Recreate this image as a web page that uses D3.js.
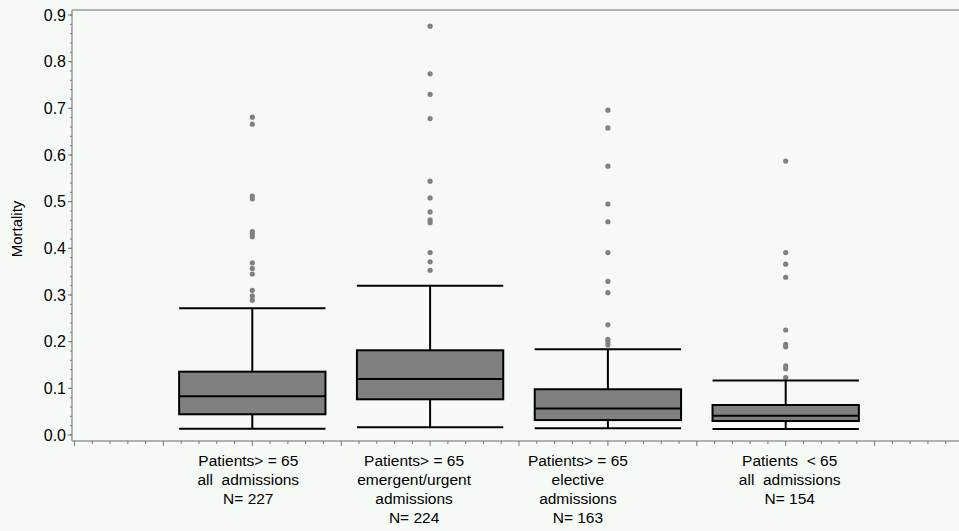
<!DOCTYPE html>
<html>
<head>
<meta charset="utf-8">
<script src="https://cdn.jsdelivr.net/npm/d3@7"></script>
<style>
  body { margin: 0; background: #f6faf6; }
  text { font-family: "Liberation Sans", Arial, sans-serif; fill: #000; }
</style>
</head>
<body>
<div id="d3-container"></div>
<script>
const width = 959,
    height = 531,
    margin = { top: 10, bottom: 90, left: 72, right: 0 };

// group labels (one line per entry)
const groupLabels = [
    ["Patients> = 65", "all  admissions", "N= 227"],
    ["Patients> = 65", "emergent/urgent", "admissions", "N= 224"],
    ["Patients> = 65", "elective", "admissions", "N= 163"],
    ["Patients  < 65", "all  admissions", "N= 154"],
];

// five-number summaries
const whiskerLow = [0.0135, 0.0165, 0.0143, 0.0129];
const q1 = [0.0444, 0.0765, 0.032, 0.030];
const median = [0.0829, 0.120, 0.057, 0.0414];
const q3 = [0.1357, 0.1815, 0.098, 0.0643];
const whiskerHigh = [0.2715, 0.320, 0.184, 0.117];

// outliers above the upper whisker
const outliers = [
    [0.681, 0.666, 0.512, 0.506, 0.436, 0.431, 0.425, 0.369, 0.357, 0.345, 0.310, 0.298, 0.289],
    [0.876, 0.774, 0.730, 0.678, 0.544, 0.508, 0.478, 0.461, 0.455, 0.391, 0.371, 0.353],
    [0.696, 0.658, 0.576, 0.495, 0.457, 0.391, 0.329, 0.305, 0.236, 0.205, 0.199, 0.193],
    [0.587, 0.391, 0.366, 0.338, 0.225, 0.194, 0.189, 0.148, 0.142, 0.123],
];

const yTicks = [0, 0.1, 0.2, 0.3, 0.4, 0.5, 0.6, 0.7, 0.8, 0.9];

// label nudges (SAS places the tick text a bit off the box centre)
const labelShift = [-4, -16, -30, 4];

const svg = d3.select("#d3-container")
    .append("svg")
    .attr("width", width)
    .attr("height", height);

const y = d3.scaleLinear()
    .domain([0, 0.9])
    .range([435, 15]);

const x = d3.scaleLinear()
    .domain([0, 5])
    .range([74.5, 963.5]);

const boxW = x(0.823) - x(0);
const axisY = 441;

const groups = groupLabels.map((g, i) => ({
    pos: i + 1,
    lo: whiskerLow[i], q1: q1[i], med: median[i], q3: q3[i], hi: whiskerHigh[i],
    out: outliers[i],
}));

// frame lines
svg.append("line")
    .attr("x1", margin.left).attr("x2", width)
    .attr("y1", margin.top).attr("y2", margin.top)
    .attr("stroke", "#999").attr("stroke-width", 1.5);

// y axis
const yAxis = svg.append("g")
    .attr("transform", `translate(${margin.left},0)`);
yAxis.append("line")
    .attr("x1", 0).attr("x2", 0)
    .attr("y1", margin.top).attr("y2", axisY)
    .attr("stroke", "#999").attr("stroke-width", 1.5);
yAxis.selectAll(".minor")
    .data(d3.range(0, 0.901, 0.02))
    .join("line")
    .attr("class", "minor")
    .attr("x1", -2).attr("x2", 0)
    .attr("y1", d => y(d)).attr("y2", d => y(d))
    .attr("stroke", "#777");
yAxis.selectAll(".major")
    .data(yTicks)
    .join("line")
    .attr("class", "major")
    .attr("x1", -4).attr("x2", 0)
    .attr("y1", d => y(d)).attr("y2", d => y(d))
    .attr("stroke", "#777");
yAxis.selectAll(".ylab")
    .data(yTicks)
    .join("text")
    .attr("class", "ylab")
    .attr("x", -6)
    .attr("y", d => y(d))
    .attr("dy", "0.36em")
    .attr("text-anchor", "end")
    .style("font-size", "16px")
    .text(d3.format(".1f"));

svg.append("text")
    .attr("transform", `translate(22,${y(0.45) + 4}) rotate(-90)`)
    .attr("text-anchor", "middle")
    .style("font-size", "15px")
    .text("Mortality");

// x axis
const xAxis = svg.append("g");
xAxis.append("line")
    .attr("x1", margin.left).attr("x2", width)
    .attr("y1", axisY).attr("y2", axisY)
    .attr("stroke", "#999").attr("stroke-width", 1.5);
xAxis.selectAll(".xtick")
    .data(d3.range(0, 50).map(d => d / 10))
    .join("line")
    .attr("class", "xtick")
    .attr("x1", d => x(d)).attr("x2", d => x(d))
    .attr("y1", axisY)
    .attr("y2", (d, i) => axisY + (i % 5 === 0 ? 5 : 3))
    .attr("stroke", "#777");

// outliers
svg.selectAll(".outs")
    .data(groups)
    .join("g")
    .attr("class", "outs")
    .selectAll("circle")
    .data(d => d.out.map(v => ({ pos: d.pos, v })))
    .join("circle")
    .attr("cx", d => x(d.pos))
    .attr("cy", d => y(d.v))
    .attr("r", 2.6)
    .attr("fill", "#808080");

// boxes
const box = svg.selectAll(".box")
    .data(groups)
    .join("g")
    .attr("class", "box");

box.append("line")
    .attr("x1", d => x(d.pos)).attr("x2", d => x(d.pos))
    .attr("y1", d => y(d.hi)).attr("y2", d => y(d.lo))
    .attr("stroke", "#000").attr("stroke-width", 2);

box.append("rect")
    .attr("x", d => x(d.pos) - boxW / 2)
    .attr("width", boxW)
    .attr("y", d => y(d.q3))
    .attr("height", d => y(d.q1) - y(d.q3))
    .attr("fill", "#808080")
    .attr("stroke", "#000")
    .attr("stroke-width", 2);

box.selectAll(".hl")
    .data(d => [d.lo, d.med, d.hi].map(v => ({ pos: d.pos, v })))
    .join("line")
    .attr("class", "hl")
    .attr("x1", d => x(d.pos) - boxW / 2)
    .attr("x2", d => x(d.pos) + boxW / 2)
    .attr("y1", d => y(d.v)).attr("y2", d => y(d.v))
    .attr("stroke", "#000").attr("stroke-width", 2);

// group labels
svg.selectAll(".glab")
    .data(groupLabels)
    .join("text")
    .attr("class", "glab")
    .attr("text-anchor", "middle")
    .style("font-size", "15.5px")
    .selectAll("tspan")
    .data((d, i) => d.map(s => ({ s, i })))
    .join("tspan")
    .attr("x", d => x(d.i + 1) + labelShift[d.i])
    .attr("y", (d, j) => 466 + j * 19)
    .attr("xml:space", "preserve")
    .style("white-space", "pre")
    .text(d => d.s);
</script>
</body>
</html>
